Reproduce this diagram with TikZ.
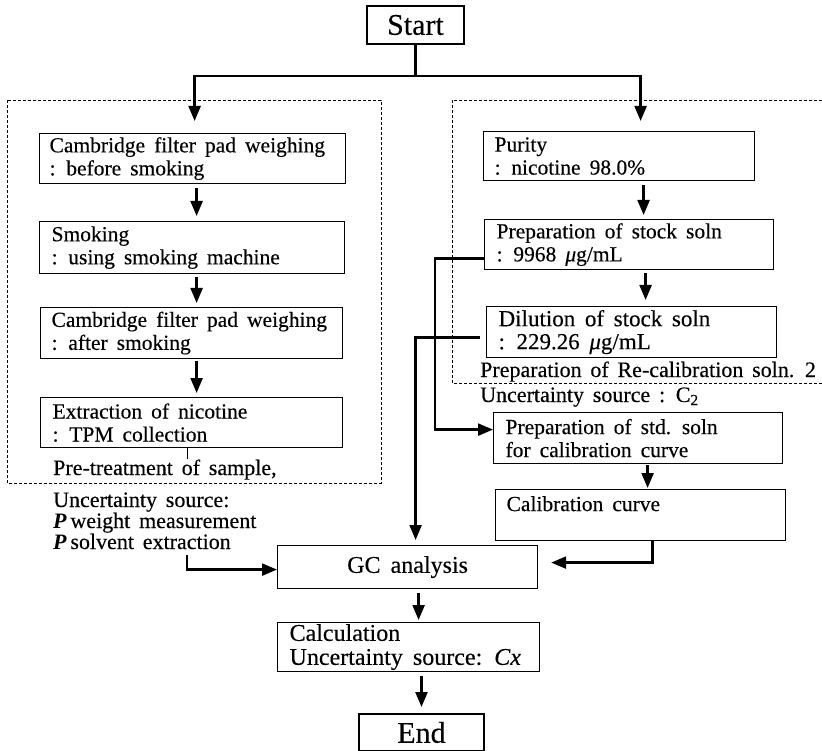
\documentclass[tikz,border=0pt]{standalone}
\usepackage{fontspec}
\setmainfont{Liberation Serif}[UprightFeatures={FakeBold=0.25},ItalicFeatures={FakeBold=0.25}]
\usetikzlibrary{arrows.meta}
\newcommand\bxfont{\fontsize{21.5}{23}\selectfont}
\newcommand\lbfont{\fontsize{22}{23}\selectfont\spaceskip=0.4em plus 0.1em\relax}
\newcommand\dlfont{\fontsize{23}{23}\selectfont}
\newcommand\bgfont{\fontsize{24}{24}\selectfont}
\newcommand\sefont{\fontsize{30}{30}\selectfont}
\newcommand\ml[1]{\mbox{\spaceskip=0.42em plus 0.1em\relax #1}}
\begin{document}
\begin{tikzpicture}[x=1pt,y=-1pt,
  bx/.style={draw, line width=1.2pt, anchor=north west, align=left, inner xsep=11pt, inner ysep=0pt, font=\bxfont},
  se/.style={draw, line width=2pt, anchor=north west, inner sep=0pt, font=\sefont},
  conn/.style={line width=2.3pt},
  arr/.style={conn, -{Triangle[length=15pt,width=12pt]}},
  lbl/.style={anchor=base west, inner sep=0pt, font=\lbfont},
  dsh/.style={line width=0.9pt, dash pattern=on 3pt off 2pt}]
\useasboundingbox[fill=white] (0,0) rectangle (822,751);

% dashed groups
\draw[dsh] (7,100) rectangle (381,483);
\draw[dsh] (822,100) -- (452,100) -- (452,383) -- (822,383);

% start / end
\node[se, minimum width=97pt, minimum height=38pt] (start) at (366,5) {Start};
\node[se, minimum width=125pt, minimum height=37pt] (end) at (358,713) {End};

% left column
\node[bx, inner xsep=10pt, text width=286pt, minimum height=50pt] (c1) at (39,133) {\ml{Cambridge filter pad weighing}\\\ml{: before smoking}};
\node[bx, inner xsep=12pt, text width=281pt, minimum height=52pt] (smk) at (39,221) {\ml{Smoking}\\\ml{: using smoking machine}};
\node[bx, inner xsep=11pt, text width=280pt, minimum height=51pt] (c2) at (40,307) {\ml{Cambridge filter pad weighing}\\\ml{: after smoking}};
\node[bx, inner xsep=12pt, text width=278pt, minimum height=50pt] (ext) at (40,397) {\ml{Extraction of nicotine}\\\ml{: TPM collection}};

% right column
\node[bx, text width=249pt, minimum height=49pt] (pur) at (483,131) {\ml{Purity}\\\ml{: nicotine 98.0\%}};
\node[bx, inner xsep=12pt, text width=265pt, minimum height=50pt] (stk) at (484,219) {\ml{Preparation of stock soln}\\\ml{: 9968 \textit{μ}g/mL}};
\node[bx, inner xsep=12pt, text width=266pt, minimum height=51pt, font=\dlfont] (dil) at (486,306) {\ml{Dilution of stock soln}\\\ml{: 229.26 \textit{μ}g/mL}};
\node[bx, inner xsep=12pt, text width=265pt, minimum height=51pt] (std) at (493,412) {\ml{Preparation of std. soln}\\\ml{for calibration curve}};
\node[bx, text width=268pt, minimum height=51pt] (cal) at (495,489) {\ml{Calibration curve}\\\mbox{}};

% centre
\node[draw, line width=1.2pt, anchor=north west, inner sep=0pt, minimum width=260pt, minimum height=43pt, font=\bgfont] (gc) at (277,545) {\ml{GC analysis}};
\node[bx, inner xsep=12pt, text width=238pt, minimum height=49pt, font=\bgfont] (calc) at (277,622) {\ml{Calculation}\\\ml{Uncertainty source: \textit{Cx}}};

% labels
\node[lbl] (pre) at (53,475) {Pre-treatment of sample,};
\node[lbl] (u1) at (53,507) {Uncertainty source:};
\node[lbl] (u2) at (53,528) {\textbf{\textit{P}}\,weight measurement};
\node[lbl] (u3) at (53,549) {\textbf{\textit{P}}\,solvent extraction};
\node[lbl] (rc) at (480,377) {Preparation of Re-calibration soln. 2};
\node[lbl] (u4) at (480,402) {Uncertainty source : C\textsubscript{2}};

% connectors
\draw[conn] (start.south) -- ++(0,31) coordinate (split);
\draw[arr, shorten >=12pt] (split) -| ([xshift=2pt]c1.north);
\draw[arr, shorten >=10pt] (split) -| ([xshift=21.5pt]pur.north);

\draw[arr, shorten <=4pt, shorten >=5pt] ([xshift=4pt]c1.south) -- ([xshift=4.5pt]smk.north);
\draw[arr, shorten <=3pt, shorten >=4pt] ([xshift=4.5pt]smk.south) -- ([xshift=5pt]c2.north);
\draw[arr, shorten <=2pt, shorten >=4pt] ([xshift=5pt]c2.south) -- ([xshift=5pt]ext.north);
\draw[line width=1pt] ([xshift=-4pt]ext.south) -- ++(0,11);

\draw[arr, shorten <=4pt, shorten >=4pt] ([xshift=24.5pt]pur.south) -- ([xshift=14.5pt]stk.north);
\draw[arr, shorten <=3pt, shorten >=6pt] ([xshift=16.5pt]stk.south) -- ([xshift=14pt]dil.north);
\draw[arr, shorten <=1pt, shorten >=1pt] ([xshift=9.5pt]std.south) -- ([xshift=7pt]cal.north);

\draw[arr] ([yshift=-14pt]stk.west) -- ++(-49,0) |- ([yshift=8.5pt]std.west);
\draw[arr, shorten >=5pt] ([xshift=-6pt,yshift=-5.5pt]dil.west) -| ([xshift=8pt]gc.north);
\coordinate (ls) at (187,555);
\draw[arr] (ls) |- ([yshift=-2.5pt]gc.west);
\draw[arr, shorten >=13pt] ([xshift=12pt]cal.south) |- ([yshift=4.5pt]gc.east);

\draw[arr, shorten <=4pt, shorten >=2pt] ([xshift=11pt]gc.south) -- ([xshift=10pt]calc.north);
\draw[arr, shorten <=4pt, shorten >=6pt] (calc.south -| end.north) -- (end.north);
\end{tikzpicture}
\end{document}
